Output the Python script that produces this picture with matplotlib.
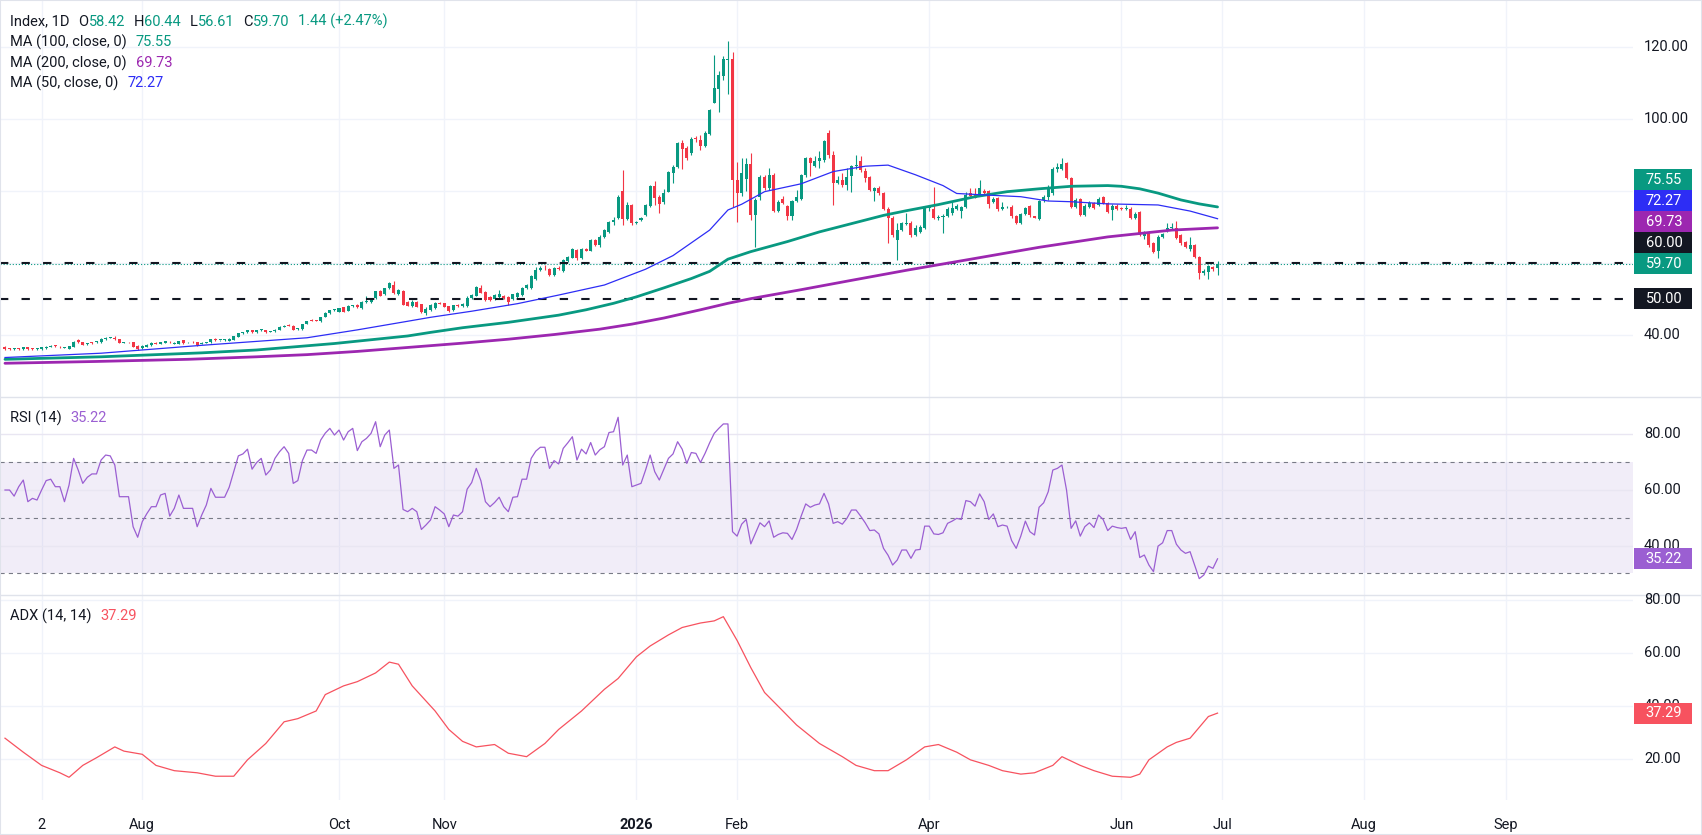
import matplotlib
matplotlib.use('Agg')
import matplotlib.pyplot as plt
from matplotlib.patches import Rectangle
from matplotlib.lines import Line2D
import numpy as np

plt.rcParams['font.family'] = ['Roboto', 'DejaVu Sans']
plt.rcParams['lines.scale_dashes'] = False

# ---------------- data (daily candles, one per trading day) ----------------
opens = [
    36.4, 36.1, 36.0, 36.1, 35.9, 36.4, 36.0, 35.9, 35.9, 36.2,
    36.5, 37.0, 36.6, 36.3, 36.1, 36.6, 38.5, 37.8, 37.4, 37.8,
    37.8, 37.8, 38.7, 39.0, 39.1, 38.7, 37.7, 37.9, 37.8, 36.9,
    36.2, 36.6, 37.0, 37.6, 37.5, 37.7, 38.0, 37.5, 37.4, 38.4,
    37.8, 38.0, 37.8, 37.5, 37.7, 37.8, 38.7, 38.4, 38.4, 38.3,
    38.6, 39.4, 40.3, 40.6, 41.2, 40.6, 41.2, 41.2, 40.8, 40.9,
    41.3, 42.1, 42.6, 42.5, 41.5, 41.5, 42.9, 44.0, 43.9, 43.7,
    45.0, 45.9, 46.8, 46.4, 47.6, 46.6, 47.9, 48.3, 47.5, 49.0,
    49.1, 50.1, 52.1, 51.2, 52.9, 53.8, 51.2, 52.1, 49.0, 48.0,
    49.0, 48.4, 46.0, 46.8, 47.3, 48.8, 48.7, 47.9, 46.8, 48.2,
    47.9, 47.9, 50.1, 50.8, 53.1, 51.9, 50.5, 49.8, 50.5, 50.8,
    50.5, 49.8, 50.5, 51.0, 52.9, 53.0, 55.6, 58.0, 58.6, 58.2,
    56.6, 58.6, 57.8, 60.5, 61.4, 63.5, 61.2, 63.8, 63.4, 66.3,
    64.9, 67.1, 68.6, 71.4, 72.5, 80.0, 72.3, 76.1, 71.0, 71.9,
    73.3, 75.9, 81.5, 78.4, 76.8, 79.8, 84.9, 86.6, 93.4, 92.0,
    90.5, 94.8, 94.2, 92.6, 95.8, 104.6, 108.4, 112.1, 116.6, 116.7,
    83.0, 79.5, 83.3, 87.5, 73.3, 78.4, 84.0, 80.7, 84.4, 74.5,
    77.9, 75.8, 73.0, 77.3, 77.9, 84.4, 89.1, 87.0, 88.3, 88.6,
    96.2, 90.0, 82.3, 83.0, 81.6, 84.1, 87.0, 88.3, 85.6, 84.0,
    80.1, 80.7, 79.3, 75.1, 72.6, 66.3, 69.1, 70.8, 71.1, 67.7,
    68.6, 69.8, 75.3, 75.0, 72.5, 72.8, 73.0, 73.9, 75.1, 74.4,
    75.6, 79.3, 79.1, 78.9, 80.0, 80.0, 77.0, 77.9, 75.1, 75.4,
    75.6, 73.0, 71.1, 73.5, 75.8, 73.0, 72.1, 77.5, 78.4, 79.3,
    86.0, 86.0, 87.7, 83.5, 75.6, 77.7, 73.3, 75.6, 76.7, 76.1,
    78.2, 76.7, 74.7, 75.8, 75.3, 74.9, 75.1, 72.6, 74.2, 67.5,
    68.4, 65.4, 63.4, 67.3, 68.9, 69.6, 69.8, 67.7, 65.7, 63.7,
    64.9, 61.7, 57.2, 57.5, 58.9, 58.42,
]
highs = [
    36.7, 36.3, 36.3, 36.2, 36.6, 36.5, 36.2, 36.2, 36.6, 36.8,
    37.0, 37.2, 36.7, 36.6, 36.9, 38.2, 38.8, 37.9, 37.7, 37.9,
    38.3, 38.9, 39.3, 39.4, 39.5, 38.8, 38.0, 38.0, 37.9, 37.0,
    37.0, 37.4, 37.8, 37.8, 38.0, 38.3, 38.3, 37.8, 38.3, 38.6,
    38.0, 38.1, 37.9, 37.8, 37.9, 38.8, 38.9, 38.6, 38.7, 38.9,
    39.7, 40.4, 40.8, 41.3, 41.4, 41.4, 41.5, 41.4, 41.1, 41.5,
    42.3, 42.7, 42.8, 42.6, 41.8, 42.9, 43.9, 44.4, 44.1, 44.9,
    46.2, 46.9, 47.0, 47.5, 47.8, 48.1, 48.3, 48.5, 49.3, 50.8,
    50.0, 52.2, 52.4, 53.0, 54.7, 54.8, 52.6, 52.4, 49.3, 49.5,
    49.3, 48.6, 47.6, 48.4, 49.1, 49.0, 48.9, 48.0, 48.3, 48.4,
    48.7, 50.6, 51.3, 53.6, 53.9, 52.1, 50.7, 51.4, 52.3, 51.1,
    50.7, 51.4, 51.8, 53.2, 54.1, 56.5, 58.9, 59.2, 59.3, 58.5,
    58.8, 59.0, 61.1, 62.0, 64.1, 63.8, 64.0, 64.1, 66.6, 66.6,
    67.6, 69.5, 71.7, 72.8, 78.8, 85.8, 77.0, 76.5, 71.6, 72.8,
    76.5, 81.8, 82.7, 79.0, 80.5, 85.7, 87.2, 93.7, 94.2, 92.4,
    95.0, 95.2, 95.5, 96.6, 102.8, 117.9, 113.5, 117.6, 121.8, 118.6,
    88.1, 89.1, 89.1, 90.6, 77.9, 84.5, 84.5, 86.3, 85.0, 77.6,
    78.7, 76.2, 77.6, 80.2, 84.6, 89.5, 89.5, 89.8, 91.0, 94.2,
    97.1, 91.0, 84.2, 85.0, 86.3, 87.3, 90.0, 89.7, 86.4, 84.3,
    81.0, 81.3, 79.6, 75.4, 73.0, 71.0, 71.4, 73.9, 71.5, 70.4,
    70.5, 75.8, 76.2, 81.0, 73.3, 73.6, 75.4, 76.8, 76.3, 75.9,
    79.6, 80.8, 80.8, 83.0, 80.5, 80.4, 78.3, 78.3, 77.0, 75.8,
    76.0, 73.4, 73.9, 75.6, 76.0, 73.1, 77.6, 78.9, 81.8, 86.6,
    87.8, 89.3, 88.0, 83.8, 78.1, 78.0, 76.3, 77.2, 77.0, 78.3,
    78.5, 77.0, 76.4, 76.3, 75.6, 76.2, 75.4, 74.0, 74.5, 68.9,
    68.8, 65.7, 67.6, 68.4, 71.1, 71.0, 71.7, 68.0, 66.0, 67.1,
    65.2, 62.0, 58.2, 59.4, 59.2, 60.44,
]
lows = [
    35.7, 35.8, 35.8, 35.8, 35.8, 35.7, 35.7, 35.8, 35.8, 36.1,
    36.4, 36.6, 36.3, 36.2, 36.0, 36.5, 37.7, 37.0, 37.2, 37.5,
    37.6, 37.7, 38.6, 38.9, 38.6, 37.6, 37.6, 37.6, 36.5, 35.8,
    36.0, 36.5, 36.9, 37.3, 37.4, 37.6, 37.6, 37.3, 37.3, 37.5,
    37.7, 37.7, 36.9, 37.4, 37.6, 37.7, 38.3, 38.3, 38.3, 38.2,
    38.5, 39.2, 40.1, 40.5, 40.4, 40.5, 41.0, 40.4, 40.7, 40.8,
    41.2, 42.0, 42.3, 41.3, 41.3, 41.3, 42.8, 43.8, 43.7, 43.6,
    44.9, 45.8, 46.6, 46.3, 46.3, 46.5, 47.8, 47.4, 47.1, 48.7,
    48.8, 49.9, 50.6, 51.0, 52.6, 51.3, 51.0, 48.1, 47.9, 47.7,
    47.6, 46.1, 45.5, 46.6, 47.1, 48.4, 47.6, 46.4, 46.6, 47.7,
    47.8, 47.8, 49.9, 50.6, 51.5, 49.3, 49.3, 49.6, 50.3, 49.9,
    48.1, 49.6, 50.3, 50.8, 52.6, 52.8, 55.3, 57.8, 58.1, 56.4,
    56.4, 58.0, 57.3, 60.3, 61.2, 60.8, 61.0, 63.2, 63.2, 64.6,
    64.4, 66.9, 68.4, 70.5, 72.3, 70.5, 72.0, 70.6, 70.8, 71.5,
    73.0, 75.6, 76.2, 73.9, 76.4, 79.6, 82.2, 86.4, 86.2, 88.5,
    90.0, 93.6, 91.4, 92.3, 95.5, 104.4, 102.1, 110.8, 106.9, 75.6,
    71.4, 78.5, 79.9, 72.0, 64.5, 77.5, 80.3, 80.2, 74.2, 74.0,
    76.3, 71.9, 71.9, 76.9, 77.6, 84.0, 84.2, 86.8, 86.5, 88.0,
    89.3, 76.2, 81.9, 81.0, 80.4, 79.8, 86.0, 85.3, 82.6, 79.9,
    77.2, 78.9, 74.8, 65.6, 67.3, 60.8, 68.8, 70.6, 67.2, 67.4,
    68.2, 69.5, 74.5, 72.2, 71.9, 68.4, 72.7, 73.4, 74.7, 72.4,
    75.3, 78.2, 77.9, 78.5, 79.0, 75.3, 76.7, 74.3, 74.8, 75.2,
    72.5, 70.8, 70.8, 73.2, 72.8, 72.4, 72.0, 77.0, 77.4, 79.0,
    85.4, 85.8, 83.2, 75.2, 75.3, 73.0, 73.0, 75.2, 75.0, 75.8,
    76.3, 73.8, 71.9, 74.6, 74.7, 74.7, 72.3, 72.3, 67.4, 66.5,
    64.5, 62.8, 61.4, 67.0, 68.6, 69.3, 66.5, 65.0, 64.2, 63.4,
    61.2, 55.6, 56.5, 55.6, 57.8, 56.61,
]
closes = [
    35.9, 36.0, 36.1, 35.9, 36.4, 35.9, 35.9, 36.0, 36.4, 36.6,
    36.8, 36.8, 36.4, 36.5, 36.8, 38.0, 37.8, 37.2, 37.5, 37.7,
    38.2, 38.7, 39.1, 39.2, 38.7, 37.7, 37.8, 37.8, 36.6, 36.1,
    36.9, 37.2, 37.6, 37.5, 37.9, 38.2, 37.8, 37.6, 38.2, 37.6,
    37.9, 37.8, 37.0, 37.7, 37.8, 38.7, 38.4, 38.5, 38.5, 38.8,
    39.6, 40.3, 40.6, 41.2, 40.6, 41.2, 41.3, 40.6, 41.0, 41.4,
    42.2, 42.5, 42.5, 41.4, 41.6, 42.8, 43.8, 43.9, 43.8, 44.8,
    46.1, 46.8, 46.9, 47.3, 46.4, 47.9, 48.2, 47.6, 49.2, 49.1,
    49.8, 52.0, 50.7, 52.9, 54.3, 51.5, 52.4, 48.2, 48.0, 49.2,
    47.8, 46.4, 47.0, 48.2, 48.9, 48.6, 47.8, 46.6, 48.1, 47.9,
    48.5, 50.3, 51.0, 53.3, 51.7, 49.6, 49.6, 51.0, 51.2, 50.1,
    49.1, 51.2, 51.5, 53.0, 53.8, 56.3, 58.0, 58.6, 58.4, 56.6,
    58.4, 58.3, 60.8, 61.7, 63.7, 61.2, 63.8, 63.4, 66.3, 64.9,
    67.3, 69.1, 71.4, 71.9, 78.4, 72.3, 76.1, 71.0, 71.4, 72.5,
    76.1, 81.5, 78.1, 76.5, 79.5, 85.4, 86.7, 93.4, 91.7, 89.3,
    94.6, 94.5, 92.6, 96.2, 102.5, 108.6, 112.3, 116.7, 116.7, 83.0,
    79.5, 84.9, 87.5, 73.3, 77.6, 84.0, 80.7, 84.4, 74.5, 76.9,
    76.7, 73.0, 77.2, 78.4, 84.4, 89.1, 87.7, 88.3, 89.1, 94.0,
    90.0, 82.3, 83.0, 81.6, 84.0, 86.9, 87.3, 85.8, 83.5, 80.2,
    80.7, 79.3, 75.1, 72.4, 67.7, 69.1, 71.1, 71.1, 67.7, 69.8,
    70.0, 75.4, 75.6, 72.6, 72.8, 73.1, 75.0, 75.3, 75.8, 75.6,
    79.0, 78.6, 78.1, 80.9, 79.3, 76.3, 77.9, 75.1, 75.4, 75.5,
    73.0, 71.1, 73.6, 75.3, 73.3, 72.6, 77.3, 78.4, 81.2, 86.0,
    86.8, 87.4, 83.5, 75.6, 77.6, 73.3, 75.8, 76.7, 75.3, 77.9,
    76.7, 74.2, 75.8, 74.9, 75.0, 75.2, 72.6, 73.7, 67.7, 68.4,
    64.9, 63.1, 67.3, 68.0, 69.8, 69.9, 66.8, 65.4, 64.5, 64.9,
    61.5, 57.2, 57.8, 59.1, 58.26, 59.70,
]

# moving averages, read at selected bars
ma50_bars = [0, 21, 43, 66, 77, 88, 93, 102, 112, 121, 131, 140, 146, 154, 158, 161, 166,
             174, 181, 188, 193, 199, 205, 208, 214, 222, 228, 233, 241, 252, 259, 265]
ma50_vals = [33.6, 34.8, 37.0, 39.1, 41.3, 43.7, 44.8, 46.5, 48.6, 51.0, 53.8, 58.2, 62.0, 69.1, 74.7, 76.3, 79.8,
             82.0, 85.4, 86.9, 87.2, 84.5, 81.5, 79.3, 78.9, 78.4, 77.2, 77.0, 76.4, 76.1, 74.4, 72.27]
ma100_bars = [0, 21, 43, 55, 72, 88, 93, 100, 110, 121, 127, 133, 138, 144, 150, 154, 158, 163, 171,
              178, 185, 192, 197, 204, 212, 219, 226, 233, 241, 244, 248, 252, 257, 261, 265]
ma100_vals = [33.1, 33.8, 34.9, 35.7, 37.5, 39.6, 40.6, 41.9, 43.4, 45.4, 46.9, 48.7, 50.5, 53.0, 55.6, 57.6, 61.0, 63.1, 65.9,
              68.6, 70.9, 73.2, 74.5, 76.2, 78.4, 79.8, 80.6, 81.3, 81.5, 81.3, 80.6, 79.4, 77.5, 76.4, 75.55]
ma200_bars = [0, 20, 40, 55, 66, 77, 88, 100, 110, 120, 130, 137, 144, 152, 158, 163, 174, 185,
              197, 212, 226, 241, 255, 265]
ma200_vals = [32.0, 32.5, 33.1, 33.8, 34.4, 35.3, 36.4, 37.6, 38.7, 40.0, 41.5, 42.9, 44.6, 46.9, 48.7, 50.0, 52.5, 55.1,
              57.9, 61.2, 64.3, 67.2, 69.1, 69.73]

# RSI(14), one value per bar
rsi = [
    60.0, 60.0, 57.8, 61.2, 63.6, 55.8, 57.0, 56.4, 60.0, 63.4,
    63.9, 61.2, 61.2, 55.8, 61.8, 71.4, 67.2, 62.4, 64.6, 65.8,
    65.8, 70.8, 72.6, 72.3, 69.0, 57.6, 57.6, 57.6, 46.8, 43.0,
    48.6, 51.5, 54.0, 54.0, 58.2, 58.8, 50.6, 53.4, 58.2, 53.4,
    53.4, 53.4, 46.8, 51.0, 54.6, 60.6, 57.4, 57.4, 57.4, 61.0,
    66.6, 72.3, 73.0, 74.7, 67.5, 69.9, 71.4, 65.4, 67.2, 71.4,
    73.8, 75.6, 73.2, 62.4, 63.4, 70.6, 74.4, 74.4, 73.2, 78.0,
    80.5, 82.2, 79.8, 81.6, 78.0, 81.0, 82.2, 74.2, 77.4, 78.6,
    80.4, 84.6, 75.6, 79.8, 81.6, 67.8, 69.0, 53.0, 52.2, 53.4,
    52.2, 45.8, 47.4, 49.2, 54.0, 52.8, 51.4, 46.8, 51.0, 50.6,
    52.2, 60.3, 62.7, 67.8, 63.4, 55.8, 54.0, 55.5, 57.4, 54.0,
    52.2, 57.4, 57.6, 63.9, 63.9, 71.4, 74.0, 75.4, 75.4, 67.8,
    70.6, 69.4, 75.0, 77.0, 79.2, 70.8, 74.7, 73.0, 77.1, 72.6,
    74.5, 75.6, 80.7, 81.0, 86.2, 69.0, 72.6, 61.2, 61.8, 62.4,
    67.2, 72.6, 66.6, 63.6, 67.5, 71.4, 73.0, 77.4, 74.7, 69.6,
    73.5, 73.2, 69.9, 73.2, 77.0, 80.4, 82.2, 83.8, 83.8, 45.0,
    43.4, 47.7, 49.4, 40.6, 44.4, 48.2, 46.8, 48.9, 43.0, 44.0,
    44.6, 44.4, 42.2, 45.8, 50.6, 55.0, 53.8, 54.6, 55.0, 58.8,
    55.0, 48.0, 48.6, 47.7, 49.8, 52.8, 52.8, 50.6, 48.2, 45.4,
    45.6, 44.2, 39.0, 36.5, 33.0, 34.8, 38.4, 38.4, 35.4, 38.4,
    38.6, 47.0, 47.0, 44.2, 44.0, 44.6, 48.0, 48.8, 49.8, 49.4,
    56.2, 55.8, 54.2, 58.6, 55.8, 49.4, 51.4, 46.8, 47.4, 47.0,
    41.8, 39.0, 43.4, 48.8, 45.0, 43.8, 53.8, 55.4, 59.4, 67.2,
    67.8, 69.0, 60.0, 46.2, 48.9, 43.4, 46.8, 48.2, 46.5, 51.0,
    49.4, 45.4, 47.0, 46.5, 46.2, 46.5, 42.2, 45.0, 35.7, 36.6,
    33.0, 30.6, 39.8, 41.0, 45.4, 45.4, 40.5, 38.4, 37.2, 37.8,
    33.0, 28.1, 29.4, 32.6, 31.8, 35.22,
]

# ADX(14,14), read at selected bars
adx_bars = [0, 4, 8, 12, 14, 17, 20, 24, 26, 30, 33, 37, 42, 46, 50, 53, 57, 61, 64, 68,
            70, 74, 77, 81, 84, 86, 89, 94, 97, 100, 103, 107, 110, 114, 118, 121, 126, 131, 134, 138,
            141, 145, 148, 152, 155, 157, 160, 163, 166, 170, 173, 178, 183, 186, 190, 193, 197, 201, 204, 208,
            211, 215, 218, 222, 225, 229, 231, 235, 238, 242, 246, 248, 250, 254, 256, 259, 261, 263, 265]
adx_vals = [27.8, 22.5, 17.5, 14.7, 13.0, 17.5, 20.4, 24.5, 22.9, 21.7, 17.5, 15.5, 14.7, 13.4, 13.4, 19.6, 25.8, 34.0, 35.2, 38.1,
            44.3, 47.6, 49.2, 52.5, 56.6, 55.8, 47.6, 38.1, 31.1, 26.6, 24.5, 25.4, 22.1, 20.8, 25.8, 31.1, 38.1, 46.3, 50.4, 58.6,
            62.7, 66.9, 69.7, 71.4, 72.2, 73.8, 64.8, 54.5, 45.1, 38.1, 32.8, 25.8, 20.8, 17.5, 15.5, 15.5, 19.6, 24.5, 25.4, 22.5,
            19.6, 17.5, 15.5, 14.2, 14.7, 17.5, 20.8, 17.5, 15.5, 13.4, 13.0, 14.2, 19.6, 24.5, 26.2, 27.8, 31.9, 36.0, 37.29]

month_labels = ['2', 'Aug', 'Oct', 'Nov', '2026', 'Feb', 'Apr', 'Jun', 'Jul', 'Aug', 'Sep']
month_bars = [8, 30, 73, 96, 138, 160, 202, 244, 266, 297, 328]
levels = [60.0, 50.0]
header_vals = {'O': 58.42, 'H': 60.44, 'L': 56.61, 'C': 59.70}
change, change_pct = 1.44, 2.47

# ---------------- style ----------------
TEAL = '#089981'
RED = '#f23645'
BLUE = '#2d2df5'
PURPLE = '#9c27b0'
RSI_COL = '#9b5fd2'
ADX_COL = '#f7525f'
DARK = '#131722'
GRID = '#f0f3fa'
SEP = '#e0e3eb'
FS = 10.5

W, H = 1702, 835
fig = plt.figure(figsize=(W / 100, H / 100), dpi=100)
fig.patch.set_facecolor('white')
PLOT_R = 1633


def add_panel(top, bottom):
    return fig.add_axes([0, 1 - bottom / H, PLOT_R / W, (bottom - top) / H])


ax1 = add_panel(0, 397)
ax2 = add_panel(397, 595)
ax3 = add_panel(595, 800)
ax1.set_ylim(22.6, 133.2)
ax2.set_ylim(22.2, 93.5)
ax3.set_ylim(4.4, 82.0)

n = len(closes)
xs = np.arange(n)
for ax in (ax1, ax2, ax3):
    ax.set_xlim(-1.09, 355.8)
    for s in ax.spines.values():
        s.set_visible(False)
    ax.set_xticks([])
    ax.set_yticks([])
    ax.patch.set_alpha(0)
    for b in month_bars:
        ax.axvline(b, color=GRID, lw=1, zorder=0)

for v in (40, 60, 80, 100, 120):
    ax1.axhline(v, color=GRID, lw=1, zorder=0)
for v in (40, 60, 80):
    ax2.axhline(v, color='#e9e6f2', lw=1, zorder=0.5)
for v in (20, 40, 60, 80):
    ax3.axhline(v, color=GRID, lw=1, zorder=0)

# candles
o = np.array(opens)
h = np.array(highs)
l = np.array(lows)
c = np.array(closes)
cols = np.where(c >= o, TEAL, RED)
ax1.vlines(xs, l, h, colors=cols, lw=0.8, zorder=2)
ax1.bar(xs, np.maximum(np.abs(c - o), 0.25), bottom=np.minimum(o, c), width=0.66,
        color=cols, lw=0, zorder=3)

# moving averages
ax1.plot(ma200_bars, ma200_vals, color=PURPLE, lw=2.0, zorder=4, solid_capstyle='round')
ax1.plot(ma100_bars, ma100_vals, color=TEAL, lw=2.0, zorder=4, solid_capstyle='round')
ax1.plot(ma50_bars, ma50_vals, color=BLUE, lw=0.9, zorder=5)

# horizontal levels and last price line
for lv in levels:
    ax1.axhline(lv, color=DARK, lw=1.5, dashes=(6, 9.5), zorder=3.5)
ax1.axhline(closes[-1], color=TEAL, lw=0.8, dashes=(0.8, 1.4), zorder=3.4)

# RSI
ax2.axhspan(30, 70, color='#7e57c2', alpha=0.1, lw=0, zorder=0)
for lv in (70, 50, 30):
    ax2.axhline(lv, color='#787b86', lw=0.8, dashes=(3, 3), zorder=1)
ax2.plot(xs, rsi, color=RSI_COL, lw=0.9, zorder=3)

# ADX
ax3.plot(adx_bars, adx_vals, color=ADX_COL, lw=0.9, zorder=3)

# separators
for yy in (397, 595):
    fig.add_artist(Line2D([0, 1], [1 - yy / H] * 2, color=SEP, lw=1, transform=fig.transFigure))


def ypx(ax, v):
    return H - ax.transData.transform((0, v))[1]


# right axis labels (main-panel 80/60 are fully covered by value tags, as in the original)
for ax, vals in ((ax1, (120, 100, 40)), (ax2, (80, 60, 40)), (ax3, (80, 60, 40, 20))):
    for v in vals:
        fig.text(1644 / W, 1 - ypx(ax, v) / H, f'{v:.2f}', ha='left', va='center',
                 fontsize=FS, color=DARK, zorder=2)


def box(yc, txt, col):
    fig.add_artist(Rectangle((1634 / W, 1 - (yc + 10.5) / H), 58 / W, 21 / H,
                             transform=fig.transFigure, fc=col, ec='none', zorder=5))
    fig.text(1664 / W, 1 - yc / H, txt, ha='center', va='center', color='white',
             fontsize=FS, zorder=6)


main_labels = [(ma100_vals[-1], TEAL), (ma50_vals[-1], BLUE), (ma200_vals[-1], PURPLE),
               (levels[0], DARK), (closes[-1], TEAL)]
items = sorted([(ypx(ax1, v), v, col) for v, col in main_labels], reverse=True)
prev = None
for y, v, col in items:
    if prev is not None and y > prev - 21:
        y = prev - 21
    box(y, f'{v:.2f}', col)
    prev = y
box(ypx(ax1, levels[1]), f'{levels[1]:.2f}', DARK)
box(ypx(ax2, rsi[-1]), f'{rsi[-1]:.2f}', RSI_COL)
box(ypx(ax3, adx_vals[-1]), f'{adx_vals[-1]:.2f}', ADX_COL)

# time axis labels
for lab, b in zip(month_labels, month_bars):
    xp = ax3.transData.transform((b, 0))[0]
    fig.text(xp / W, 1 - 825 / H, lab, ha='center', va='center', fontsize=FS, color=DARK,
             fontweight='bold' if lab == '2026' else 'normal')

# legends / headers
renderer = fig.canvas.get_renderer()


def pieces(x0, yc, parts, size=FS):
    x = x0
    for txt, col, gap in parts:
        x += gap
        t = fig.text(x / W, 1 - yc / H, txt, color=col, fontsize=size, ha='left', va='center')
        x += t.get_window_extent(renderer=renderer).width


hp = [('Index, 1D', DARK, 0)]
for k in ('O', 'H', 'L', 'C'):
    hp.append((k, DARK, 9))
    hp.append((f'{header_vals[k]:.2f}', TEAL, 0))
hp.append((f'{change:.2f} (+{change_pct:.2f}%)', TEAL, 9))
pieces(10, 21.5, hp)
pieces(10, 42.5, [('MA (100, close, 0)', DARK, 0), (f'{ma100_vals[-1]:.2f}', TEAL, 9)])
pieces(10, 63, [('MA (200, close, 0)', DARK, 0), (f'{ma200_vals[-1]:.2f}', PURPLE, 9)])
pieces(10, 83, [('MA (50, close, 0)', DARK, 0), (f'{ma50_vals[-1]:.2f}', BLUE, 9)])
pieces(10, 418, [('RSI (14)', DARK, 0), (f'{rsi[-1]:.2f}', RSI_COL, 9)])
pieces(10, 616, [('ADX (14, 14)', DARK, 0), (f'{adx_vals[-1]:.2f}', ADX_COL, 9)])

# outer frame
fig.add_artist(Rectangle((0, 0), 1, 1, transform=fig.transFigure, fill=False, ec=SEP, lw=1.5))

fig.savefig('out.png', dpi=100)
